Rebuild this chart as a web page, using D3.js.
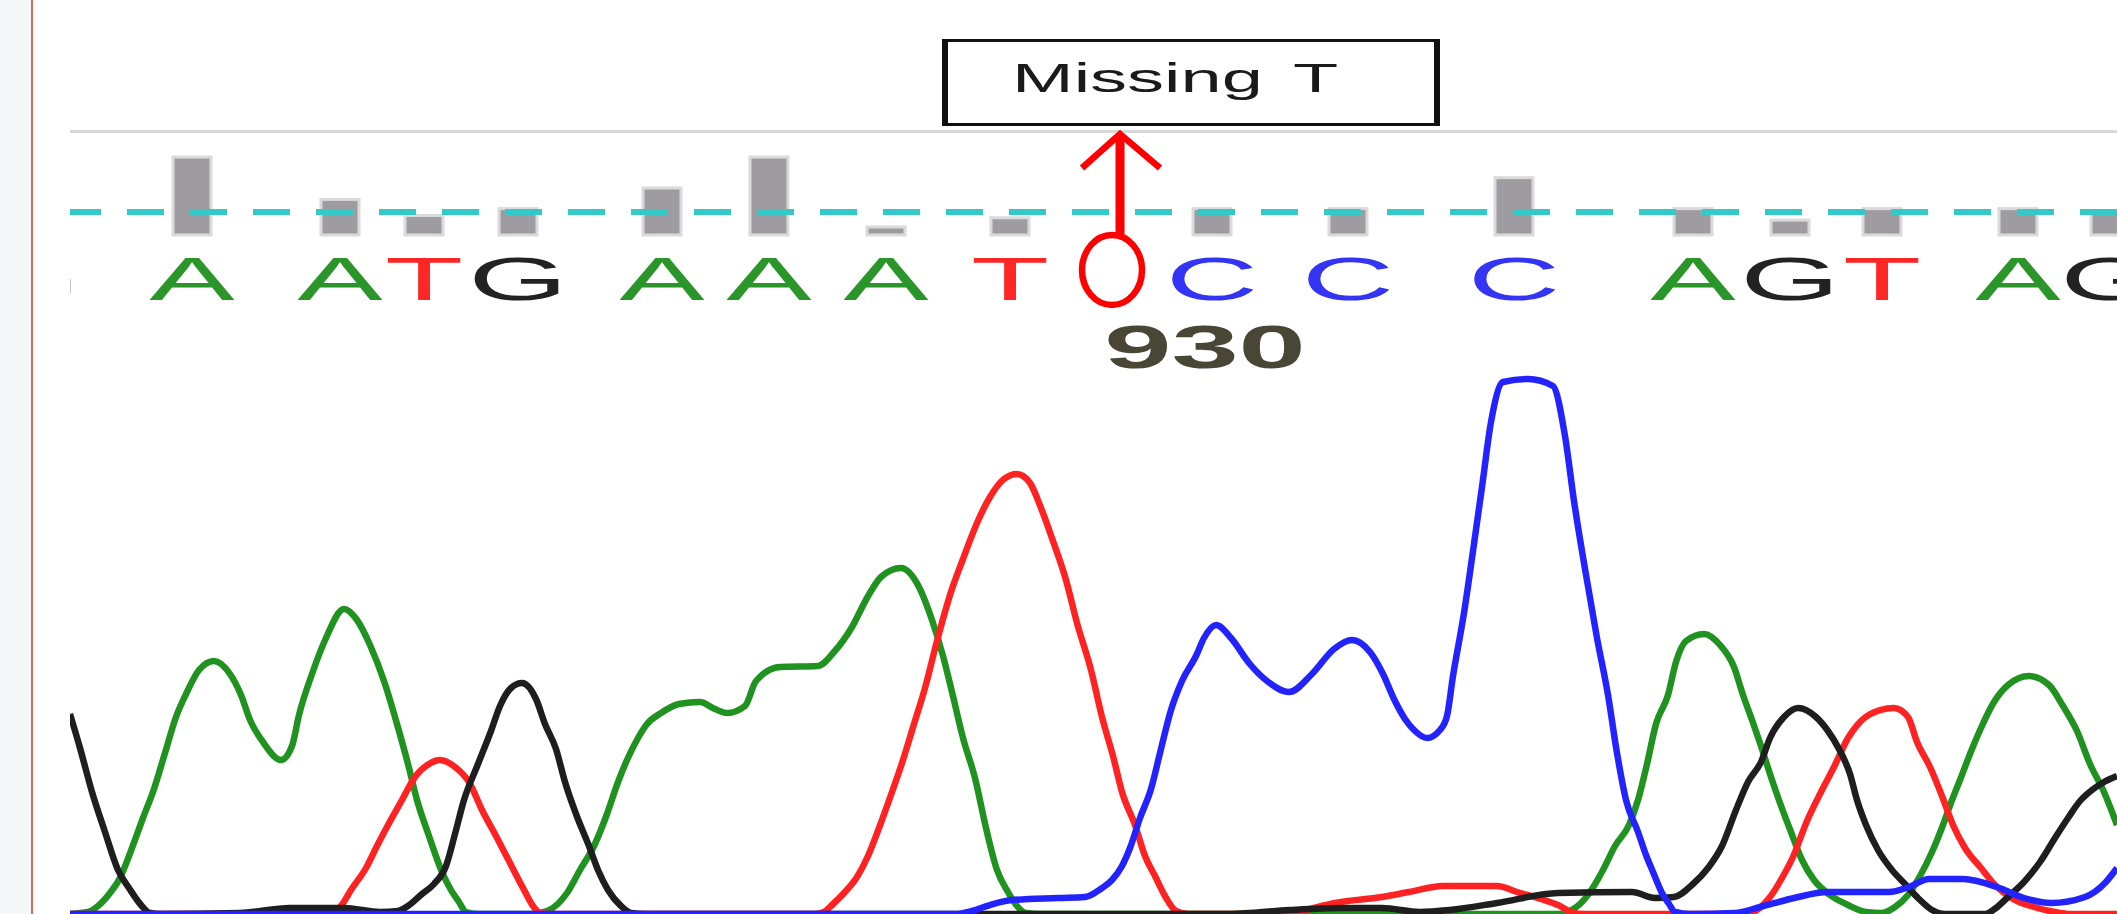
<!DOCTYPE html>
<html>
<head>
<meta charset="utf-8">
<script src="https://cdn.jsdelivr.net/npm/d3@7"></script>
<style>
  body { margin: 0; background: #fff; }
  svg { display: block; }
  text { font-family: "Liberation Sans", Arial, sans-serif; }
</style>
</head>
<body>
<div id="chart"></div>
<script>
// Base calls, scan positions and quality values

var baseCalls = ["G", "A", "A", "T", "G", "A", "A", "A", "T", "C", "C", "C", "A", "G", "T", "A", "G"];
var basePositions = [-40, 122, 270, 354, 448, 592, 699, 816, 940, 1142, 1278, 1444, 1623, 1720, 1812, 1948, 2040];
var qualityValues = [20, 68, 31, 17, 23, 41, 68, 7, 15, 23, 23, 50, 23, 13, 23, 23, 19];
var qualityThreshold = 20;

var positionLabels = ["930"];
var positionScans = [1135];

var missingScan = 1042;
var missingLabel = "Missing T";

// Traces: [scan, intensity]

var traceA = [[0,0],[18,2],[28,8],[40,21],[50,36],[59,58],[73,96],[84,125],[95,161],[106,197],[117,222],[129,244],[144,253],[160,240],[171,219],[180,194],[193,172],[211,154],[222,168],[229,199],[242,240],[256,276],[274,305],[287,294],[300,269],[314,233],[327,190],[338,150],[347,114],[359,78],[372,42],[381,24],[389,12],[396,2],[410,0],[460,0],[477,3],[497,21],[510,44],[524,68],[537,100],[548,132],[557,154],[568,176],[577,190],[591,201],[609,210],[630,212],[645,205],[657,201],[675,208],[686,233],[710,247],[748,248],[764,262],[782,287],[797,316],[811,337],[831,346],[849,327],[862,294],[873,258],[882,222],[893,176],[905,136],[916,86],[927,44],[938,22],[947,8],[956,1],[970,0],[1490,0],[1500,3],[1510,10],[1522,25],[1533,44],[1545,68],[1559,89],[1568,114],[1577,150],[1586,190],[1598,219],[1606,252],[1616,273],[1634,280],[1650,269],[1664,247],[1673,219],[1682,194],[1691,168],[1700,140],[1710,111],[1721,82],[1732,54],[1744,34],[1760,19],[1778,9],[1796,2],[1812,1],[1825,7],[1838,19],[1850,38],[1862,62],[1873,89],[1882,114],[1890,134],[1902,165],[1911,186],[1924,212],[1938,229],[1959,238],[1979,229],[1993,208],[2007,183],[2020,150],[2034,122],[2047,89]];

var traceT = [[0,0],[250,0],[263,2],[271,8],[281,24],[296,46],[307,68],[318,89],[332,114],[345,137],[359,150],[370,154],[385,147],[399,132],[412,104],[426,78],[439,53],[453,26],[463,8],[470,1],[480,0],[745,0],[754,2],[762,9],[774,21],[787,37],[798,58],[809,86],[822,122],[833,154],[844,190],[855,226],[867,273],[880,319],[893,355],[907,391],[920,417],[934,435],[947,440],[960,431],[971,406],[983,373],[996,334],[1007,291],[1021,244],[1032,197],[1043,158],[1052,122],[1065,89],[1075,58],[1085,38],[1095,18],[1106,3],[1118,0],[1220,0],[1240,5],[1265,11],[1312,17],[1339,22],[1373,28],[1427,28],[1447,22],[1474,14],[1488,9],[1501,2],[1515,0],[1675,0],[1687,4],[1700,17],[1712,36],[1723,57],[1737,93],[1751,122],[1764,147],[1778,176],[1792,194],[1810,204],[1824,206],[1838,197],[1847,172],[1860,147],[1872,118],[1883,89],[1895,66],[1911,46],[1926,28],[1943,15],[1964,7],[1985,2],[2000,0],[2047,0]];

var traceG = [[0,200],[10,166],[22,122],[35,82],[48,44],[59,26],[71,9],[80,1],[90,0],[170,1],[220,6],[274,6],[310,2],[328,3],[338,8],[352,20],[364,30],[376,48],[385,80],[394,114],[408,150],[421,183],[430,208],[441,226],[452,231],[466,215],[475,190],[486,165],[495,132],[506,100],[519,68],[528,44],[538,24],[551,8],[561,1],[575,0],[1160,0],[1219,4],[1272,6],[1312,6],[1350,2],[1380,4],[1427,11],[1488,21],[1562,22],[1585,16],[1604,17],[1623,30],[1638,46],[1652,68],[1666,104],[1678,132],[1691,152],[1700,176],[1714,197],[1728,206],[1746,197],[1758,183],[1769,165],[1780,140],[1787,114],[1796,89],[1808,64],[1822,44],[1835,30],[1848,16],[1862,4],[1875,0],[1915,0],[1926,6],[1938,17],[1954,32],[1970,52],[1985,76],[1998,96],[2010,113],[2022,124],[2034,132],[2047,138]];

var traceC = [[0,0],[885,0],[902,3],[920,9],[942,14],[988,16],[1015,17],[1032,26],[1042,34],[1052,48],[1060,66],[1070,96],[1081,125],[1090,161],[1101,204],[1112,233],[1126,258],[1134,276],[1146,289],[1161,276],[1179,251],[1197,233],[1219,222],[1242,240],[1264,265],[1282,274],[1300,262],[1313,240],[1324,215],[1335,195],[1344,184],[1357,176],[1370,184],[1377,198],[1383,238],[1394,301],[1403,363],[1412,427],[1421,492],[1433,532],[1458,535],[1483,528],[1495,478],[1504,413],[1515,345],[1527,276],[1538,219],[1547,161],[1556,114],[1568,82],[1576,59],[1583,42],[1592,21],[1599,10],[1605,2],[1620,0],[1665,1],[1690,7],[1724,16],[1758,22],[1819,22],[1839,27],[1859,35],[1893,35],[1927,27],[1954,16],[1981,11],[2015,17],[2035,31],[2047,46]];

var baseColor = {A: "#2a962a", C: "#3434f4", G: "#222222", T: "#ff2626"};
var traceColor = {A: "#1f921f", C: "#2323ff", G: "#1e1e1e", T: "#ff2222"};

var width = 2117,
    height = 914,
    plotLeft = 70;

var x = d3.scaleLinear()
    .domain([0, 2047])
    .range([plotLeft, width]);

var y = d3.scaleLinear()
    .domain([0, 800])
    .range([914, 114]);

var q = d3.scaleLinear()
    .domain([0, 68])
    .range([235, 157]);

var svg = d3.select("#chart").append("svg")
    .attr("width", width)
    .attr("height", height);

svg.append("defs").append("clipPath")
    .attr("id", "plotClip")
  .append("rect")
    .attr("x", plotLeft)
    .attr("y", 0)
    .attr("width", width - plotLeft)
    .attr("height", height);

// Left side panel

svg.append("rect")
    .attr("x", 0).attr("y", 0)
    .attr("width", 31).attr("height", height)
    .attr("fill", "#f4f8f9");

svg.append("line")
    .attr("x1", 32).attr("x2", 32)
    .attr("y1", 0).attr("y2", height)
    .attr("stroke", "#d26a5c")
    .attr("stroke-width", 2);

svg.append("line")
    .attr("x1", plotLeft).attr("x2", width)
    .attr("y1", 131.5).attr("y2", 131.5)
    .attr("stroke", "#d8d8d8")
    .attr("stroke-width", 3);

var plot = svg.append("g")
    .attr("clip-path", "url(#plotClip)");

var bases = baseCalls.map(function(b, i) {
    return {base: b, scan: basePositions[i], qv: qualityValues[i]};
});

// Quality bars

plot.selectAll(".qbar")
    .data(bases)
  .enter().append("rect")
    .attr("class", "qbar")
    .attr("x", function(d) { return x(d.scan) - 19; })
    .attr("y", function(d) { return q(d.qv); })
    .attr("width", 38)
    .attr("height", function(d) { return q(0) - q(d.qv); })
    .attr("fill", "#9e9ca0")
    .attr("stroke", "#dadada")
    .attr("stroke-width", 3);

plot.append("line")
    .attr("x1", plotLeft).attr("x2", width)
    .attr("y1", q(qualityThreshold)).attr("y2", q(qualityThreshold))
    .attr("stroke", "#33c9c9")
    .attr("stroke-width", 6)
    .attr("stroke-dasharray", "37 26")
    .attr("stroke-dashoffset", 6);

// Base letters

plot.selectAll(".base")
    .data(bases)
  .enter().append("text")
    .attr("class", "base")
    .attr("transform", function(d) { return "translate(" + x(d.scan) + ",300) scale(2.1,1)"; })
    .attr("text-anchor", "middle")
    .attr("font-size", 61)
    .attr("fill", function(d) { return baseColor[d.base]; })
    .text(function(d) { return d.base; });

plot.selectAll(".pos")
    .data(positionLabels)
  .enter().append("text")
    .attr("class", "pos")
    .attr("transform", function(d, i) { return "translate(" + x(positionScans[i]) + ",368) scale(1.95,1)"; })
    .attr("text-anchor", "middle")
    .attr("font-size", 62)
    .attr("font-weight", "bold")
    .attr("fill", "#4a4636")
    .text(function(d) { return d; });

// Traces

var line = d3.line()
    .x(function(d) { return x(d[0]); })
    .y(function(d) { return y(d[1]); })
    .curve(d3.curveMonotoneX);

var traces = [
    {base: "A", values: traceA},
    {base: "T", values: traceT},
    {base: "G", values: traceG},
    {base: "C", values: traceC}
];

plot.selectAll(".trace")
    .data(traces)
  .enter().append("path")
    .attr("class", "trace")
    .attr("d", function(d) { return line(d.values); })
    .attr("fill", "none")
    .attr("stroke", function(d) { return traceColor[d.base]; })
    .attr("stroke-width", 6.5)
    .attr("stroke-linejoin", "round");

// Missing base annotation

var mx = x(missingScan);

svg.append("path")
    .attr("d", "M942,39H1440V126H942Z M948,42H1434V123H948Z")
    .attr("fill", "#111")
    .attr("fill-rule", "evenodd");

svg.append("text")
    .attr("transform", "translate(1012,92) scale(1.85,1)")
    .attr("font-size", 40)
    .attr("word-spacing", 6)
    .attr("fill", "#1a1a1a")
    .text(missingLabel);

svg.append("ellipse")
    .attr("cx", mx).attr("cy", 270)
    .attr("rx", 30).attr("ry", 35)
    .attr("fill", "none")
    .attr("stroke", "#ff0000")
    .attr("stroke-width", 6.5);

svg.append("line")
    .attr("x1", mx + 8).attr("x2", mx + 8)
    .attr("y1", 237).attr("y2", 134)
    .attr("stroke", "#ff0000")
    .attr("stroke-width", 9);

svg.append("path")
    .attr("d", "M" + (mx - 30) + ",168L" + (mx + 8) + ",134L" + (mx + 48) + ",168")
    .attr("fill", "none")
    .attr("stroke", "#ff0000")
    .attr("stroke-width", 6.5);
</script>
</body>
</html>
